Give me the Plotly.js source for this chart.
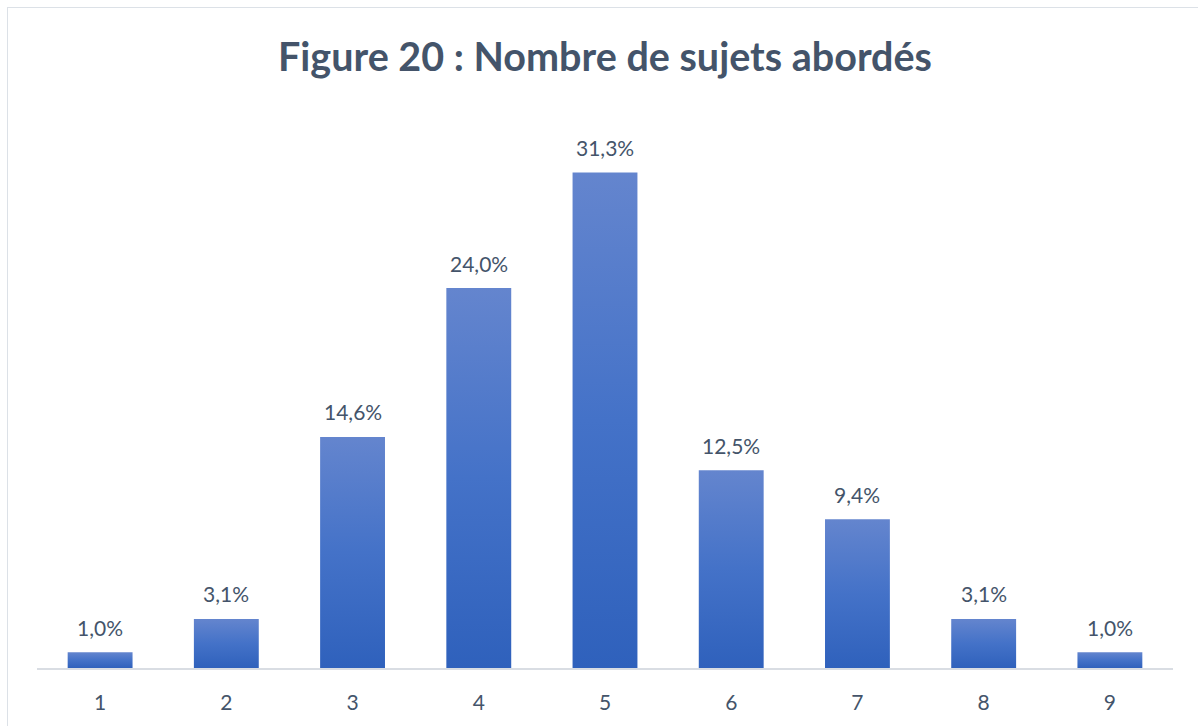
<!DOCTYPE html>
<html>
<head>
<meta charset="utf-8">
<script src="https://cdn.plot.ly/plotly-3.0.1.min.js"></script>
<style>
html,body{margin:0;padding:0;background:#fff;}
#wrap{position:relative;width:1198px;height:726px;overflow:hidden;}
#chart{width:1198px;height:726px;}
#frame{position:absolute;left:7px;top:7px;width:1300px;height:800px;border-top:1.5px solid #DCE1E7;border-left:1.5px solid #DCE1E7;pointer-events:none;}
</style>
</head>
<body>
<div id="wrap"><div id="chart"></div><div id="frame"></div></div>
<script>
const categories = ['1','2','3','4','5','6','7','8','9'];
const values = [1.0, 3.1, 14.6, 24.0, 31.3, 12.5, 9.4, 3.1, 1.0];
const labels = values.map(v => v.toFixed(1).replace('.', ',') + '%');

const textColor = '#44546A';
const font = 'Lato, "Open Sans", sans-serif';

const trace = {
  type: 'bar',
  x: categories,
  y: values,
  marker: {color: '#4472C4', line: {width: 0}},
  hoverinfo: 'skip'
};

const annotations = categories.map((c, i) => ({
  x: i, y: values[i], xref: 'x', yref: 'y',
  text: labels[i], showarrow: false,
  yshift: 25, yanchor: 'middle',
  font: {family: font, size: 21, color: textColor}
}));

const layout = {
  width: 1198, height: 726,
  margin: {l: 37, r: 25, t: 114, b: 58},
  paper_bgcolor: '#ffffff', plot_bgcolor: '#ffffff',
  bargap: 0.486,
  showlegend: false,
  title: {
    text: '<b>Figure 20 : Nombre de sujets abordés</b>',
    font: {family: font, size: 39.5, color: textColor},
    x: 0.505, xanchor: 'center', y: 1 - 57/726, yanchor: 'middle', yref: 'container'
  },
  xaxis: {
    type: 'category',
    range: [-0.5, 8.5],
    showgrid: false, zeroline: false,
    showline: true, linecolor: '#D9DDE3', linewidth: 1.5,
    ticks: '', ticklabelstandoff: 15,
    tickfont: {family: font, size: 21, color: textColor}
  },
  yaxis: {
    range: [0, 35], visible: false, showgrid: false, zeroline: false
  },
  annotations: annotations
};

Plotly.newPlot('chart', [trace], layout, {displayModeBar: false, staticPlot: true}).then(gd => {
  const svg = gd.querySelector('svg.main-svg');
  const ns = 'http://www.w3.org/2000/svg';
  let defs = svg.querySelector('defs');
  if (!defs) { defs = document.createElementNS(ns, 'defs'); svg.insertBefore(defs, svg.firstChild); }
  const grad = document.createElementNS(ns, 'linearGradient');
  grad.setAttribute('id', 'barGrad');
  grad.setAttribute('x1', '0'); grad.setAttribute('y1', '0');
  grad.setAttribute('x2', '0'); grad.setAttribute('y2', '1');
  [['0%', '#6485CE'], ['50%', '#4472C8'], ['100%', '#2F61BC']].forEach(([o, c]) => {
    const s = document.createElementNS(ns, 'stop');
    s.setAttribute('offset', o); s.setAttribute('stop-color', c);
    grad.appendChild(s);
  });
  defs.appendChild(grad);
  gd.querySelectorAll('.barlayer .point path').forEach(p => {
    p.style.fill = 'url(#barGrad)';
  });
});
</script>
</body>
</html>
